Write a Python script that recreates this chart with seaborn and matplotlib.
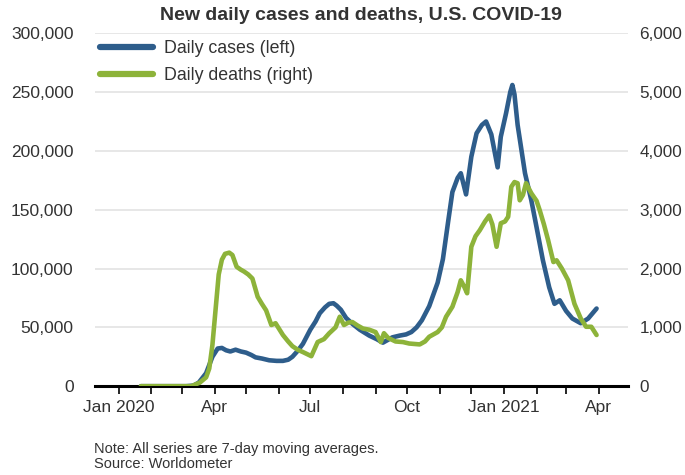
import pandas as pd
import seaborn as sns
import matplotlib.pyplot as plt
import matplotlib.dates as mdates
import matplotlib.ticker as mticker

# 7-day moving averages
case_dates = [
    "2020-01-22", "2020-03-05", "2020-03-12", "2020-03-17", "2020-03-24", "2020-03-30",
    "2020-04-04", "2020-04-08", "2020-04-12", "2020-04-16", "2020-04-21", "2020-04-26",
    "2020-05-01", "2020-05-06", "2020-05-10", "2020-05-16", "2020-05-23", "2020-05-30",
    "2020-06-05", "2020-06-10", "2020-06-14", "2020-06-19", "2020-06-24", "2020-07-01",
    "2020-07-06", "2020-07-10", "2020-07-15", "2020-07-19", "2020-07-23", "2020-07-26",
    "2020-07-30", "2020-08-04", "2020-08-10", "2020-08-17", "2020-08-26", "2020-09-02",
    "2020-09-08", "2020-09-12", "2020-09-17", "2020-09-24", "2020-09-30", "2020-10-05",
    "2020-10-10", "2020-10-15", "2020-10-22", "2020-10-30", "2020-11-04", "2020-11-09",
    "2020-11-13", "2020-11-18", "2020-11-21", "2020-11-26", "2020-12-01", "2020-12-06",
    "2020-12-11", "2020-12-15", "2020-12-20", "2020-12-23", "2020-12-26", "2020-12-29",
    "2021-01-03", "2021-01-07", "2021-01-09", "2021-01-11", "2021-01-14", "2021-01-21",
    "2021-01-27", "2021-02-01", "2021-02-07", "2021-02-13", "2021-02-18", "2021-02-23",
    "2021-03-01", "2021-03-07", "2021-03-15", "2021-03-22", "2021-03-30",
]
case_values = [
    0, 0, 500, 3000, 11000, 25000,
    32000, 32500, 30500, 29500, 31000, 29500,
    28500, 26500, 24500, 23500, 22000, 21500,
    21500, 22500, 25000, 30000, 36000, 48000,
    55000, 62000, 67000, 70000, 70500, 68500,
    65000, 58000, 53000, 48000, 43000, 40000,
    37000, 39000, 41500, 43000, 44000, 46000,
    50000, 56000, 68000, 88000, 108000, 140000,
    165000, 177000, 181000, 163000, 195000, 215000,
    222000, 225000, 214000, 200000, 186000, 212000,
    232000, 250000, 256000, 248000, 222000, 181000,
    158000, 135000, 107000, 84000, 70000, 73000,
    64000, 57500, 53500, 57500, 66000,
]

death_dates = [
    "2020-01-22", "2020-03-10", "2020-03-18", "2020-03-24", "2020-03-27", "2020-03-30",
    "2020-04-02", "2020-04-05", "2020-04-08", "2020-04-11", "2020-04-15", "2020-04-18",
    "2020-04-22", "2020-04-26", "2020-04-29", "2020-05-03", "2020-05-07", "2020-05-12",
    "2020-05-16", "2020-05-20", "2020-05-25", "2020-05-29", "2020-06-05", "2020-06-10",
    "2020-06-14", "2020-06-19", "2020-06-24", "2020-07-02", "2020-07-08", "2020-07-14",
    "2020-07-19", "2020-07-25", "2020-07-29", "2020-08-02", "2020-08-06", "2020-08-10",
    "2020-08-15", "2020-08-20", "2020-08-26", "2020-09-01", "2020-09-06", "2020-09-09",
    "2020-09-13", "2020-09-20", "2020-09-27", "2020-10-03", "2020-10-13", "2020-10-18",
    "2020-10-22", "2020-10-30", "2020-11-03", "2020-11-07", "2020-11-13", "2020-11-18",
    "2020-11-21", "2020-11-24", "2020-11-27", "2020-12-01", "2020-12-05", "2020-12-09",
    "2020-12-14", "2020-12-18", "2020-12-21", "2020-12-25", "2020-12-29", "2021-01-02",
    "2021-01-05", "2021-01-08", "2021-01-11", "2021-01-14", "2021-01-16", "2021-01-19",
    "2021-01-22", "2021-01-27", "2021-02-01", "2021-02-04", "2021-02-08", "2021-02-12",
    "2021-02-17", "2021-02-20", "2021-02-25", "2021-03-03", "2021-03-09", "2021-03-15",
    "2021-03-20", "2021-03-25", "2021-03-30",
]
death_values = [
    0, 0, 60, 150, 300, 700,
    1300, 1900, 2150, 2250, 2270, 2230,
    2030, 1980, 1950, 1900, 1830, 1520,
    1400, 1290, 1040, 1070, 870, 760,
    680, 620, 580, 510, 750, 800,
    900, 1000, 1180, 1040, 1080, 1090,
    1030, 980, 960, 920, 750, 900,
    820, 760, 750, 725, 710, 760,
    840, 920, 1000, 1180, 1350, 1600,
    1800, 1700, 1580, 2370, 2550, 2650,
    2800, 2900, 2750, 2370, 2770, 2800,
    2880, 3390, 3470, 3450, 3160, 3250,
    3450, 3280, 3150, 2990, 2750, 2480,
    2110, 2140, 2000, 1800, 1400, 1150,
    1010, 1010, 870,
]

cases = pd.DataFrame({"date": pd.to_datetime(case_dates), "value": case_values})
deaths = pd.DataFrame({"date": pd.to_datetime(death_dates), "value": death_values})

blue = "#2e5d8b"
green = "#8db33a"
text_col = "#333333"

sns.set_theme(style="white")
plt.rcParams['font.family'] = ['Liberation Sans', 'DejaVu Sans']

fig = plt.figure(figsize=(6.85, 4.75), dpi=100)
ax = fig.add_axes([0.138, 0.187, 0.779, 0.743])
ax2 = ax.twinx()

sns.lineplot(data=cases, x="date", y="value", ax=ax, color=blue, linewidth=3.3,
             label="Daily cases (left)", legend=False)
sns.lineplot(data=deaths, x="date", y="value", ax=ax2, color=green, linewidth=3.3,
             label="Daily deaths (right)", legend=False)

ax.set_ylim(0, 300000)
ax2.set_ylim(0, 6000)
ax.set_xlim(pd.Timestamp("2019-12-09"), pd.Timestamp("2021-04-29"))
ax.yaxis.set_major_locator(mticker.MultipleLocator(50000))
ax2.yaxis.set_major_locator(mticker.MultipleLocator(1000))
ax.yaxis.set_major_formatter(mticker.FuncFormatter(lambda v, p: f"{int(v):,}"))
ax2.yaxis.set_major_formatter(mticker.FuncFormatter(lambda v, p: f"{int(v):,}"))

ax.grid(axis="y", color="#e3e3e3", linewidth=1.2)
ax.set_axisbelow(True)
ax2.grid(False)

ax.xaxis.set_major_locator(mdates.MonthLocator())
def month_label(v, pos):
    d = mdates.num2date(v)
    if d.month == 1:
        return f"Jan {d.year}"
    if d.month in (4, 7, 10):
        return d.strftime("%b")
    return ""
ax.xaxis.set_major_formatter(mticker.FuncFormatter(month_label))

for a in (ax, ax2):
    for s in a.spines.values():
        s.set_visible(False)
    a.set_xlabel("")
    a.set_ylabel("")
ax.spines["bottom"].set_visible(True)
ax.spines["bottom"].set_color("black")
ax.spines["bottom"].set_linewidth(2.2)

ax.tick_params(axis="x", bottom=True, length=6, width=1.2, color="black",
               labelsize=12.5, labelcolor=text_col, pad=4)
ax.tick_params(axis="y", left=False, length=0, labelsize=12.5, labelcolor=text_col, pad=15)
ax2.tick_params(axis="y", right=False, length=0, labelsize=12.3, labelcolor=text_col, pad=8)

h1, l1 = ax.get_legend_handles_labels()
h2, l2 = ax2.get_legend_handles_labels()
leg = ax2.legend(h1 + h2, l1 + l2, loc="upper left", frameon=False, fontsize=12.8,
                 handlelength=3.0, handletextpad=0.6, labelspacing=0.55,
                 bbox_to_anchor=(-0.01, 1.01), borderaxespad=0.2)
for t in leg.get_texts():
    t.set_color(text_col)
for lh in leg.get_lines():
    lh.set_linewidth(4.5)

fig.text(0.527, 0.968, "New daily cases and deaths, U.S. COVID-19", ha="center", va="center",
         fontsize=14, fontweight="bold", color=text_col)
fig.text(0.137, 0.039, "Note: All series are 7-day moving averages.\nSource: Worldometer",
         ha="left", va="center", fontsize=10.5, color=text_col, linespacing=1.15)

fig.savefig("out.png", dpi=100)
